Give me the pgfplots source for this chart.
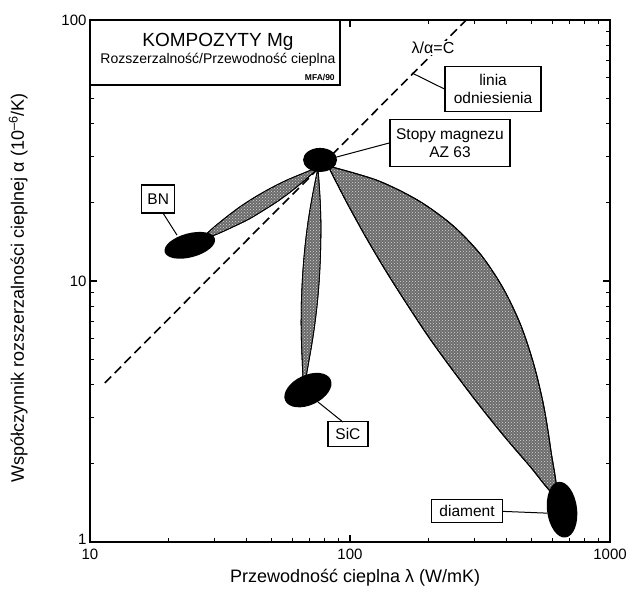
\documentclass[border=0pt]{standalone}
\usepackage{pgfplots}
\pgfplotsset{compat=1.18}
\usetikzlibrary{patterns}
\usepackage{fontspec}
\setmainfont{Liberation Sans}

\pgfdeclareplotmark{ellAZ}{\pgfpathellipse{\pgfpointorigin}{\pgfqpoint{17pt}{0pt}}{\pgfqpoint{0pt}{12pt}}\pgfusepathqfill}
\pgfdeclareplotmark{ellBN}{\pgfpathellipse{\pgfpointorigin}{\pgfqpoint{25.1pt}{6.7pt}}{\pgfqpoint{-3.1pt}{11.6pt}}\pgfusepathqfill}
\pgfdeclareplotmark{ellSiC}{\pgfpathellipse{\pgfpointorigin}{\pgfqpoint{22.7pt}{10.6pt}}{\pgfqpoint{-6.3pt}{13.6pt}}\pgfusepathqfill}
\pgfdeclareplotmark{ellD}{\pgfpathellipse{\pgfpointorigin}{\pgfqpoint{14.9pt}{1.8pt}}{\pgfqpoint{-3.4pt}{27.8pt}}\pgfusepathqfill}

\begin{document}
\begin{tikzpicture}
\useasboundingbox (-90pt,-50pt) rectangle (542pt,542pt);
\begin{axis}[
  at={(0,0)}, anchor=south west,
  scale only axis, width=520pt, height=522pt,
  xmode=log, ymode=log,
  xmin=10, xmax=1000, ymin=1, ymax=100,
  xtick={10,100,1000}, xticklabels={10,100,1000},
  ytick={1,10,100}, yticklabels={\raisebox{5pt}{1},10,100},
  axis line style={line width=1.6pt},
  major tick length=7pt, minor tick length=4.5pt,
  tick style={black, line width=1.1pt},
  tick label style={font=\fontsize{15}{17}\selectfont},
  xticklabel style={yshift=-3pt},
  xlabel={Przewodność cieplna λ (W/mK)},
  ylabel={Współczynnik rozszerzalności cieplnej α (10\textsuperscript{–6}/K)},
  label style={font=\fontsize{18}{20}\selectfont},
  xlabel style={at={(axis description cs:0.51,-0.069)}, anchor=center},
  ylabel style={at={(axis description cs:-0.138,0.487)}, anchor=center},
  lens/.style={draw=black, smooth, tension=0.5, fill=black!58,
     postaction={pattern=crosshatch dots, pattern color=white!85!black}},
]
% reference line lambda/alpha = C
\addplot[black, line width=1.6pt, dash pattern=on 9pt off 5pt] coordinates {(11.4,4.07) (280,100)};

% BN lens
\addplot[lens, line width=0.8pt] coordinates {
(26.5,14.36) (29.7,15.96) (33.5,17.6) (37.9,19.3) (43.1,20.96) (49.2,22.6) (56.4,24.2) (65.0,25.7) (75.3,27.1)
(67.2,24.4) (59.6,22.1) (52.7,20.2) (46.3,18.6) (40.6,17.2) (35.4,16.1) (30.7,15.1) (26.5,14.36)} -- cycle;

% SiC lens
\addplot[lens, line width=0.8pt] coordinates {
(75.3,27.1) (76.6,21.3) (77.3,16.7) (77.1,13.2) (76.3,10.36) (74.8,8.15) (72.6,6.42) (69.8,5.06) (66.5,4.0)
(65.4,5.09) (64.9,6.47) (65.0,8.23) (65.7,10.46) (67.0,13.3) (69.0,16.9) (71.8,21.4) (75.3,27.1)} -- cycle;

% diamond lens
\addplot[lens, line width=1pt] coordinates {
(82.3,27.6) (127.2,24.3) (183.7,20.3) (248.8,16.3) (318.8,12.6) (388,9.39) (453,6.80) (509,4.80) (556,3.32) (592,2.25) (620,1.51)
(488,1.97) (387,2.58) (310,3.40) (250,4.51) (203,6.00) (166.8,8.06) (138,10.85) (115.2,14.7) (96.9,20.1) (82.3,27.6)} -- cycle;

% material ellipses
\addplot[only marks, mark=ellAZ, black] coordinates {(76.7,29.1)};
\addplot[only marks, mark=ellBN, black] coordinates {(24.2,13.7)};
\addplot[only marks, mark=ellSiC, black] coordinates {(68.9,3.82)};
\addplot[only marks, mark=ellD, black] coordinates {(654,1.33)};

% title box
\draw[line width=1.4pt, fill=white] (rel axis cs:0,1) rectangle (rel axis cs:0.481,0.8755);
\node[font=\fontsize{19}{21}\selectfont] at (rel axis cs:0.246,0.958) {KOMPOZYTY Mg};
\node[font=\fontsize{14}{16}\selectfont] at (rel axis cs:0.246,0.923) {Rozszerzalność/Przewodność cieplna};
\node[font=\bfseries\fontsize{8.5}{9}\selectfont, anchor=east, inner sep=0pt] at (rel axis cs:0.471,0.889) {MFA/90};

% labels
\node[font=\fontsize{16}{18}\selectfont, fill=white, inner sep=1pt] at (axis cs:208.6,78.1) {λ/α=C};
\tikzset{lbl/.style={draw=black, line width=1.2pt, fill=white, inner sep=0pt, align=center, font=\fontsize{15.5}{18}\selectfont}}
\node[lbl, minimum width=96pt, minimum height=45pt] (lin) at (axis cs:355,54.4) {linia\\odniesienia};
\node[lbl, minimum width=120pt, minimum height=47pt] (az) at (axis cs:242.4,33.8) {Stopy magnezu\\AZ 63};
\node[lbl, minimum width=33pt, minimum height=28pt] (bn) at (axis cs:18.3,20.6) {BN};
\node[lbl, minimum width=40pt, minimum height=25pt] (sic) at (axis cs:98.2,2.59) {SiC};
\node[lbl, minimum width=71pt, minimum height=23pt] (dia) at (axis cs:282,1.31) {diament};

\draw[line width=1pt] (axis cs:173,62.7) -- (lin.west);
\draw[line width=1pt] (axis cs:86.0,29.6) -- (az.west);
\draw[line width=1pt] (axis cs:19.1,18.2) -- (axis cs:21.6,15.0);
\draw[line width=1pt] (axis cs:75.3,3.44) -- (axis cs:94.0,2.88);
\draw[line width=1pt] (dia.east) -- (axis cs:572,1.29);
\end{axis}
\end{tikzpicture}
\end{document}
